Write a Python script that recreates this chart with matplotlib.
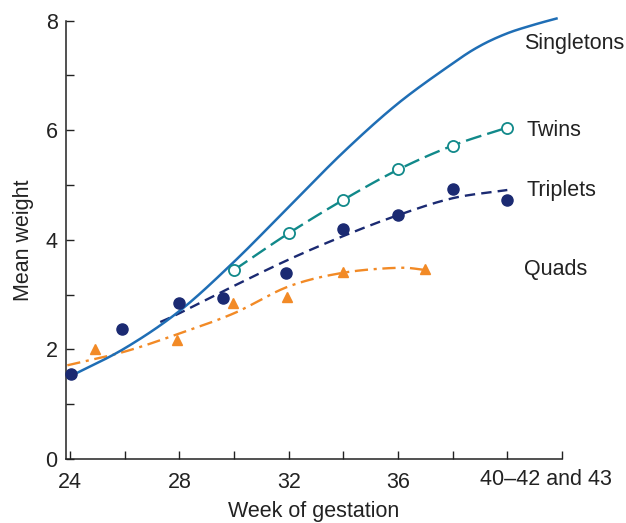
import numpy as np
import matplotlib
matplotlib.use("Agg")
import matplotlib.pyplot as plt

plt.rcParams['font.family'] = ['Liberation Sans', 'DejaVu Sans']

# ---- data ----
singleton_weeks = [24.05, 26, 28, 30, 32, 34, 36, 38, 39, 40, 41, 41.8]
singleton_curve = [1.52, 2.02, 2.70, 3.60, 4.60, 5.60, 6.49, 7.22, 7.54, 7.77, 7.93, 8.04]

twins_weeks = [30, 32, 34, 36, 38, 40]
twins_points = [3.45, 4.12, 4.73, 5.30, 5.72, 6.05]
twins_curve = [3.45, 4.12, 4.73, 5.28, 5.72, 6.05]

triplets_weeks = [24.05, 25.9, 28.0, 29.6, 31.9, 34.0, 36.0, 38.0, 40.0]
triplets_points = [1.55, 2.38, 2.85, 2.94, 3.39, 4.19, 4.45, 4.92, 4.73]
triplets_curve_weeks = [27.3, 28, 30, 32, 34, 36, 38, 40]
triplets_curve = [2.50, 2.66, 3.16, 3.64, 4.07, 4.45, 4.76, 4.91]

quads_weeks = [24.9, 27.9, 29.95, 31.93, 33.97, 37.0]
quads_points = [2.0, 2.18, 2.84, 2.96, 3.42, 3.46]
quads_curve_weeks = [23.9, 26, 28, 30, 32, 34, 36, 37]
quads_curve = [1.71, 1.96, 2.29, 2.66, 3.15, 3.40, 3.49, 3.45]

x_ticks = [24, 26, 28, 30, 32, 34, 36, 38, 40, 42]
x_labels = ['24', '', '28', '', '32', '', '36', '', '', '']
last_label = '40–42 and 43'
y_ticks = [0, 1, 2, 3, 4, 5, 6, 7, 8]
y_labels = ['0', '', '2', '', '4', '', '6', '', '8']

series_names = ['Singletons', 'Twins', 'Triplets', 'Quads']

C_SING = '#1f6eb5'
C_TWIN = '#11898a'
C_TRIP = '#1b2a72'
C_QUAD = '#f28a26'
TXT = '#222222'
FS = 15.5


def smooth(xs, ys, n=20):
    """Catmull-Rom rendering through the read points."""
    xs = np.asarray(xs, float)
    ys = np.asarray(ys, float)
    P = np.column_stack([xs, ys])
    P = np.vstack([2 * P[0] - P[1], P, 2 * P[-1] - P[-2]])
    out = []
    for i in range(1, len(P) - 2):
        p0, p1, p2, p3 = P[i - 1], P[i], P[i + 1], P[i + 2]
        t = np.linspace(0, 1, n, endpoint=False)[:, None]
        seg = 0.5 * ((2 * p1) + (-p0 + p2) * t + (2 * p0 - 5 * p1 + 4 * p2 - p3) * t ** 2
                     + (-p0 + 3 * p1 - 3 * p2 + p3) * t ** 3)
        out.append(seg)
    out.append(P[-2][None, :])
    out = np.vstack(out)
    return out[:, 0], out[:, 1]


fig = plt.figure(figsize=(6.26, 5.23), dpi=100)
ax = fig.add_axes([0.1054, 0.1224, 0.7923, 0.838])

ax.set_xlim(23.85, 42)
ax.set_ylim(0, 8)

# Singletons
sx, sy = smooth(singleton_weeks, singleton_curve)
ax.plot(sx, sy, color=C_SING, lw=1.8, clip_on=False, zorder=3)

# Twins
tx, ty = smooth(twins_weeks, twins_curve)
ax.plot(tx, ty, color=C_TWIN, lw=1.7, dashes=(6.8, 2.6), zorder=2)
ax.plot(twins_weeks, twins_points, ls='none', marker='o', ms=8, mfc='white',
        mec=C_TWIN, mew=1.3, zorder=4)

# Triplets
rx, ry = smooth(triplets_curve_weeks, triplets_curve)
ax.plot(rx, ry, color=C_TRIP, lw=1.7, dashes=(4.4, 2.6), zorder=2)
ax.plot(triplets_weeks, triplets_points, ls='none', marker='o', ms=8,
        color=C_TRIP, mec=C_TRIP, zorder=4, clip_on=False)

# Quads
qx, qy = smooth(quads_curve_weeks, quads_curve)
ax.plot(qx, qy, color=C_QUAD, lw=1.7, dashes=(5.6, 2.4, 1.3, 2.4), zorder=2)
ax.plot(quads_weeks, quads_points, ls='none', marker='^', ms=7.5,
        color=C_QUAD, mec=C_QUAD, zorder=4)

# series labels
label_pos = [(40.62, 7.58), (40.7, 6.0), (40.7, 4.9), (40.62, 3.45)]
for name, (lx, ly) in zip(series_names, label_pos):
    ax.text(lx, ly, name, fontsize=FS, color=TXT, ha='left', va='center')

# axes styling
for s in ['top', 'right']:
    ax.spines[s].set_visible(False)
for s in ['left', 'bottom']:
    ax.spines[s].set_linewidth(1.1)
    ax.spines[s].set_color(TXT)

ax.set_xticks(x_ticks)
ax.set_xticklabels(x_labels)
ax.set_yticks(y_ticks)
ax.set_yticklabels(y_labels)
ax.tick_params(axis='both', direction='in', length=6, width=1.0, colors=TXT,
               labelsize=FS, labelcolor=TXT)
ax.tick_params(axis='x', pad=9.5)
ax.tick_params(axis='y', pad=6)

ax.text(41.4, -0.18, last_label, transform=ax.transData, ha='center', va='top',
        fontsize=FS, color=TXT, clip_on=False)

ax.set_xlabel('Week of gestation', fontsize=FS, color=TXT, labelpad=5.5)
ax.set_ylabel('Mean weight', fontsize=FS, color=TXT, labelpad=8)

fig.savefig('out.png', dpi=100)
